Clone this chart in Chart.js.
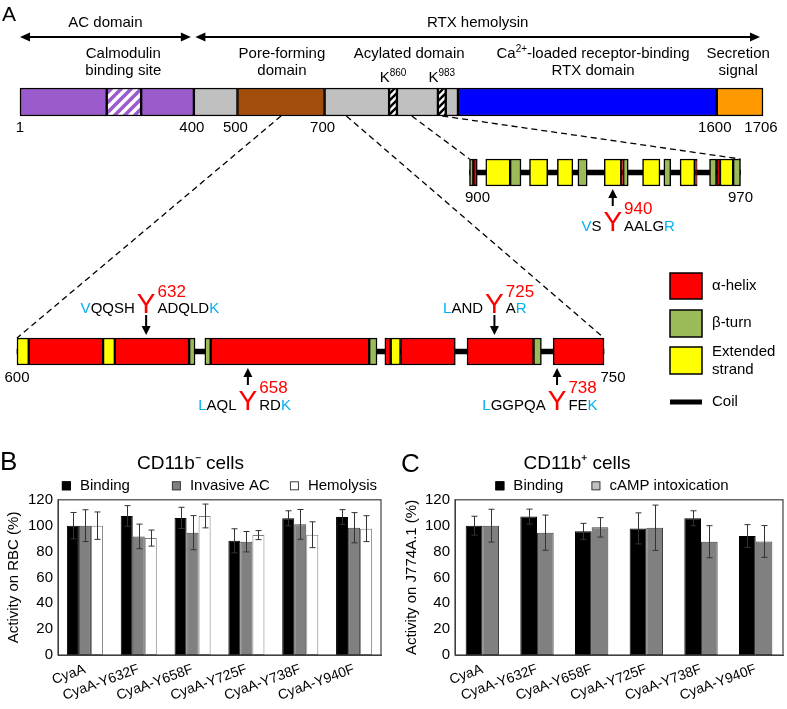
<!DOCTYPE html>
<html>
<head>
<meta charset="utf-8">
<script src="https://cdn.jsdelivr.net/npm/chart.js@4/dist/chart.umd.min.js"></script>
<style>
  html,body{margin:0;padding:0;background:#fff;}
  #page{position:relative;width:787px;height:709px;overflow:hidden;background:#fff;}
  canvas{position:absolute;}
</style>
</head>
<body>
<div id="page">
  <canvas id="cA" width="787" height="709" style="left:0;top:0"></canvas>
  <canvas id="cB" width="383" height="269" style="left:0;top:440px"></canvas>
  <canvas id="cC" width="416" height="269" style="left:371px;top:440px"></canvas>
</div>
<script>
// ---------------- DATA ----------------
// Panel A: full-length CyaA domain map (residue ranges)
const topSegments = [[1,200],[200,279],[279,400],[400,500],[500,700],[700,848],[848,866],[866,960],[960,978],[978,1006],[1006,1600],[1600,1706]];
const topKinds    = ['ac','cam','ac','link','pore','acyl','lys','acyl','lys','acyl','rtx','sec'];
const topTicks    = [1,400,500,700,1600,1706];
const domainArrows = [[1,400],[400,1706]];
const domainArrowText = ['AC domain','RTX hemolysin'];
const domainLabelText = [['Calmodulin','binding site'],['Pore-forming','domain'],['Acylated domain'],['Ca²⁺-loaded receptor-binding','RTX domain'],['Secretion','signal']];
const domainLabelAt   = [238,602,894,1316,1649];
const lysineText = ['K⁸⁶⁰','K⁹⁸³'];
const lysineAt   = [857,969];

// Panel A: secondary structure of residues 600-750
const midRange    = [600,750];
const midSegments = [[600,603],[603,622],[622,625],[625,644],[644,645.5],[648,649.5],[649.5,690],[690,692],[694,695.5],[695.5,698],[698,712],[715,732],[732,734],[737,750]];
const midKinds    = ['E','H','E','H','T','T','H','T','H','E','H','H','T','H'];
// Panel A: secondary structure of residues 900-970
const rtRange    = [900,970];
const rtSegments = [[900,901],[901,902],[904.2,910.5],[910.5,913.3],[915.5,920.2],[922.7,926.7],[928,930.4],[934.8,939.2],[939.2,939.7],[939.7,941],[944.7,949.2],[950.2,952],[954.4,958.2],[958.2,958.8],[962,963.8],[963.8,964.7],[964.7,968.1],[968.1,970]];
const rtKinds    = ['T','H','E','T','E','E','T','E','H','T','E','T','E','H','T','H','E','T'];

// Tyrosine sites
const siteNumber = [632,658,725,738,940];
const siteMark   = [633,659,722,738,937];
const siteRow    = ['mid','mid','mid','mid','rt'];
const siteSide   = ['above','below','above','below','below'];
const siteBefore = ['VQQSH','LAQL','LAND','LGGPQA','VS'];
const siteAfter  = ['ADQLDK','RDK','AR','FEK','AALGR'];

const structLegend = ['α-helix','β-turn','Extended strand','Coil'];

// Panels B and C
const mutants = ['CyaA','CyaA-Y632F','CyaA-Y658F','CyaA-Y725F','CyaA-Y738F','CyaA-Y940F'];
const rbcBinding      = [100,107.5,106,88.3,105.7,106.7];
const rbcBindingErr   = [10.2,8,8.2,9.3,5.8,5.7];
const rbcInvasive     = [100,91.7,94.6,87.6,101,98.4];
const rbcInvasiveErr  = [12.3,9.5,13.2,7.9,11.5,11.7];
const rbcHemolysis    = [100,90.4,107.5,92.7,93,97.7];
const rbcHemolysisErr = [10.6,6.2,9.2,3.5,10,10];
const j774Binding     = [100,107,95.6,97.9,105.7,92];
const j774BindingErr  = [7.3,5.8,6.2,12,5.8,8.8];
const j774Camp        = [100,94.6,98.7,98.4,87.6,87.8];
const j774CampErr     = [12.7,13.6,7.5,17.5,12.4,12.3];
const yTicksMax = 120, yTickStep = 20;

// ---------------- STYLE / LAYOUT ----------------
const FONT = "'Liberation Sans', Arial, Helvetica, sans-serif";
Chart.defaults.font.family = FONT;
Chart.defaults.color = '#000';
const RED = '#ff0000', BLUE = '#00b0f0';
const FILL = {ac:'#9b5bcc', link:'#c0c0c0', acyl:'#c0c0c0', pore:'#a34d0c', rtx:'#0000ff', sec:'#ff9900', H:'#ff0000', T:'#9bbb59', E:'#ffff00'};
const ROW = {top:{c:102,h:28}, rt:{c:172.5,h:27}, mid:{c:351.5,h:27}};
const SPAN = {xTop:{r:[1,1706],p:[20,763]}, xRt:{r:[900,970],p:[469.5,740.5]}, xMid:{r:[600,750],p:[17,604]}};
const W = 787, H = 709;

function hatch(fg, bg, size, lw){
  const c = document.createElement('canvas'); c.width = c.height = size;
  const g = c.getContext('2d');
  g.fillStyle = bg; g.fillRect(0,0,size,size);
  g.strokeStyle = fg; g.lineWidth = lw; g.beginPath();
  g.moveTo(-size/2, size/2); g.lineTo(size/2, -size/2);
  g.moveTo(0, size); g.lineTo(size, 0);
  g.moveTo(size/2, size*1.5); g.lineTo(size*1.5, size/2);
  g.stroke();
  return g.createPattern(c,'repeat');
}
FILL.cam = hatch('#9b5bcc','#ffffff',10,3.6);
FILL.lys = hatch('#000000','#ffffff',7,2.4);

function scaleRange(id){
  const {r,p} = SPAN[id]; const k = (p[1]-p[0])/(r[1]-r[0]);
  return {min: r[0]-p[0]/k, max: r[0]+(W-p[0])/k};
}
function segData(segs, row){ return segs.map(s => ({x:[s[0],s[1]], y:ROW[row].c})); }
function segDataset(segs, kinds, row, axis){
  return {data:segData(segs,row), backgroundColor:kinds.map(k=>FILL[k]), borderColor:'#000', borderWidth:1.5,
    borderSkipped:false, xAxisID:axis, yAxisID:'y', grouped:false, maxBarThickness:ROW[row].h,
    barPercentage:1, categoryPercentage:1, order:1, clip:false};
}
function coilDataset(range,row,axis){
  return {data:segData([range],row), backgroundColor:'#000', borderWidth:0, xAxisID:axis, yAxisID:'y',
    grouped:false, maxBarThickness:5, barPercentage:1, categoryPercentage:1, order:2, clip:false};
}

const SUPMAP = {'⁰':'0','¹':'1','²':'2','³':'3','⁴':'4','⁵':'5','⁶':'6','⁷':'7','⁸':'8','⁹':'9','⁺':'+','⁻':'-'};
function rich(ctx, str, x, y, size, color, align){
  const runs = [];
  for (const ch of str){
    const sup = SUPMAP[ch] !== undefined;
    const t = sup ? SUPMAP[ch] : ch;
    const last = runs[runs.length-1];
    if (last && last.sup === sup) last.t += t; else runs.push({t, sup});
  }
  const ss = Math.round(size*0.68);
  let total = 0;
  runs.forEach(r => { ctx.font = `${r.sup?ss:size}px ${FONT}`; r.w = ctx.measureText(r.t).width; total += r.w; });
  let cx = align === 'center' ? x - total/2 : align === 'right' ? x - total : x;
  ctx.fillStyle = color; ctx.textAlign = 'left'; ctx.textBaseline = 'middle';
  runs.forEach(r => {
    ctx.font = `${r.sup?ss:size}px ${FONT}`;
    ctx.fillText(r.t, cx, r.sup ? y - size*0.3 : y);
    cx += r.w;
  });
}
function arrowV(ctx, x, y1, y2){
  const dir = Math.sign(y2-y1), hl = 9, hw = 4.5;
  ctx.strokeStyle = '#000'; ctx.fillStyle = '#000'; ctx.lineWidth = 2;
  ctx.beginPath(); ctx.moveTo(x,y1); ctx.lineTo(x,y2-dir*hl); ctx.stroke();
  ctx.beginPath(); ctx.moveTo(x,y2); ctx.lineTo(x-hw,y2-dir*hl); ctx.lineTo(x+hw,y2-dir*hl); ctx.closePath(); ctx.fill();
}
function arrowH2(ctx, x1, x2, y){
  const hl = 10, hw = 4.5;
  ctx.strokeStyle = '#000'; ctx.fillStyle = '#000'; ctx.lineWidth = 2;
  ctx.beginPath(); ctx.moveTo(x1+hl-1,y); ctx.lineTo(x2-hl+1,y); ctx.stroke();
  ctx.beginPath(); ctx.moveTo(x1,y); ctx.lineTo(x1+hl,y-hw); ctx.lineTo(x1+hl,y+hw); ctx.closePath(); ctx.fill();
  ctx.beginPath(); ctx.moveTo(x2,y); ctx.lineTo(x2-hl,y-hw); ctx.lineTo(x2-hl,y+hw); ctx.closePath(); ctx.fill();
}
function text(ctx, s, x, y, size, color='#000', align='center'){
  ctx.font = `${size}px ${FONT}`; ctx.fillStyle = color; ctx.textAlign = align; ctx.textBaseline = 'middle';
  ctx.fillText(s, x, y);
}

const panelAPlugin = {
  id:'panelA',
  beforeDatasetsDraw(chart){
    const ctx = chart.ctx, s = chart.scales;
    const topBot = ROW.top.c + ROW.top.h/2;
    ctx.save();
    ctx.setLineDash([6,4]); ctx.lineWidth = 1.3; ctx.strokeStyle = '#000';
    [[midRange,'xMid','mid'],[rtRange,'xRt','rt']].forEach(([rng,id,row]) => {
      const yT = ROW[row].c - ROW[row].h/2;
      rng.forEach(r => {
        ctx.beginPath(); ctx.moveTo(s.xTop.getPixelForValue(r), topBot);
        ctx.lineTo(s[id].getPixelForValue(r), yT); ctx.stroke();
      });
    });
    ctx.restore();
  },
  afterDatasetsDraw(chart){
    const ctx = chart.ctx, s = chart.scales, xt = s.xTop;
    ctx.save();
    // panel letters
    text(ctx,'A',2,15,21,'#000','left');
    text(ctx,'B',0,463,26,'#000','left');
    text(ctx,'C',401,465,26,'#000','left');
    // domain arrows + labels
    domainArrows.forEach((r,i) => {
      const x1 = xt.getPixelForValue(r[0]) + (i ? 1.5 : 0);
      const x2 = xt.getPixelForValue(r[1]) - 3;
      arrowH2(ctx, x1, x2, 37);
      text(ctx, domainArrowText[i], (x1+x2)/2, 23, 15);
    });
    domainLabelText.forEach((lines,i) => {
      const x = xt.getPixelForValue(domainLabelAt[i]);
      lines.forEach((l,j) => rich(ctx, l, x, 54 + j*17, 15, '#000', 'center'));
    });
    lysineText.forEach((t,i) => rich(ctx, t, xt.getPixelForValue(lysineAt[i]), 78, 15, '#000', 'center'));
    topTicks.forEach(v => text(ctx, String(v), xt.getPixelForValue(v) - (v===1?0:2), 128, 15));
    // row end labels
    text(ctx, String(midRange[0]), s.xMid.getPixelForValue(midRange[0]), 378, 15);
    text(ctx, String(midRange[1]), s.xMid.getPixelForValue(midRange[1]) + 9, 378, 15);
    text(ctx, String(rtRange[0]), s.xRt.getPixelForValue(rtRange[0]) + 8, 198, 15);
    text(ctx, String(rtRange[1]), s.xRt.getPixelForValue(rtRange[1]), 198, 15);
    // tyrosine sites
    siteNumber.forEach((num,i) => {
      const row = ROW[siteRow[i]], sc = siteRow[i]==='mid' ? s.xMid : s.xRt;
      const x = sc.getPixelForValue(siteMark[i]);
      const rTop = row.c - row.h/2, rBot = row.c + row.h/2;
      const above = siteSide[i] === 'above';
      if (above) arrowV(ctx, x, rTop-23, rTop-3); else arrowV(ctx, x, rBot+20, rBot+3);
      const baseY = above ? rTop-25 : rBot+45;
      const numY = above ? rTop-41 : rBot+28;
      ctx.textBaseline = 'alphabetic';
      ctx.font = `28px ${FONT}`; const wy = ctx.measureText('Y').width;
      ctx.fillStyle = RED; ctx.textAlign = 'center'; ctx.fillText('Y', x, baseY);
      ctx.font = `17px ${FONT}`; ctx.textAlign = 'left'; ctx.fillText(String(num), x + wy/2 + 2, numY);
      ctx.font = `15px ${FONT}`;
      const b = siteBefore[i], a = siteAfter[i];
      let bx = x - wy/2 - 2 - ctx.measureText(b).width;
      [...b].forEach((ch,k) => { ctx.fillStyle = k===0 ? BLUE : '#000'; ctx.fillText(ch, bx, baseY); bx += ctx.measureText(ch).width; });
      let ax = x + wy/2 + 2;
      [...a].forEach((ch,k) => { ctx.fillStyle = k===a.length-1 ? BLUE : '#000'; ctx.fillText(ch, ax, baseY); ax += ctx.measureText(ch).width; });
    });
    // secondary-structure legend
    const lx = 670, lw = 32;
    [['H',273,299],['T',310,337],['E',347,374]].forEach(([k,y1,y2]) => {
      ctx.fillStyle = FILL[k]; ctx.fillRect(lx,y1,lw,y2-y1);
      ctx.strokeStyle = '#000'; ctx.lineWidth = 1.5; ctx.strokeRect(lx,y1,lw,y2-y1);
    });
    ctx.fillStyle = '#000'; ctx.fillRect(lx, 399.5, lw, 5);
    text(ctx, structLegend[0], 712, 286, 15, '#000', 'left');
    text(ctx, structLegend[1], 712, 323, 15, '#000', 'left');
    const ext = structLegend[2].split(' ');
    text(ctx, ext[0], 712, 352, 15, '#000', 'left');
    text(ctx, ext[1], 712, 370, 15, '#000', 'left');
    text(ctx, structLegend[3], 712, 402, 15, '#000', 'left');
    ctx.restore();
  }
};

new Chart(document.getElementById('cA'), {
  type:'bar',
  data:{datasets:[
    segDataset(topSegments, topKinds, 'top', 'xTop'),
    coilDataset(rtRange, 'rt', 'xRt'),
    segDataset(rtSegments, rtKinds, 'rt', 'xRt'),
    coilDataset(midRange, 'mid', 'xMid'),
    segDataset(midSegments, midKinds, 'mid', 'xMid')
  ]},
  options:{
    indexAxis:'y', responsive:false, animation:false, events:[],
    layout:{padding:0},
    plugins:{legend:{display:false}, tooltip:{enabled:false}, title:{display:false}},
    scales:{
      y:{type:'linear', display:false, min:0, max:H, reverse:true, offset:false, bounds:'data', ticks:{stepSize:100}},
      xTop:Object.assign({type:'linear', axis:'x', display:false, bounds:'data'}, scaleRange('xTop')),
      xRt:Object.assign({type:'linear', axis:'x', display:false, bounds:'data'}, scaleRange('xRt')),
      xMid:Object.assign({type:'linear', axis:'x', display:false, bounds:'data'}, scaleRange('xMid'))
    }
  },
  plugins:[panelAPlugin]
});

// ---------------- Panels B & C ----------------
const errorBarPlugin = {
  id:'errorBars',
  afterDatasetsDraw(chart){
    const ctx = chart.ctx, ys = chart.scales.y;
    ctx.save(); ctx.strokeStyle = '#333'; ctx.lineWidth = 1;
    chart.data.datasets.forEach((ds,di) => {
      const meta = chart.getDatasetMeta(di);
      meta.data.forEach((el,i) => {
        const v = ds.data[i], e = ds.errors[i];
        const x = Math.round(el.x)+0.5, y1 = ys.getPixelForValue(v+e), y2 = ys.getPixelForValue(v-e);
        ctx.beginPath(); ctx.moveTo(x,y1); ctx.lineTo(x,y2);
        ctx.moveTo(x-3,y1); ctx.lineTo(x+3,y1); ctx.moveTo(x-3,y2); ctx.lineTo(x+3,y2); ctx.stroke();
      });
    });
    ctx.restore();
  }
};
const framePlugin = {
  id:'frame',
  afterDraw(chart){
    const {ctx, chartArea:a} = chart;
    ctx.save(); ctx.strokeStyle = '#404040'; ctx.lineWidth = 1.2;
    ctx.strokeRect(a.left, a.top, a.right-a.left, a.bottom-a.top); ctx.restore();
  }
};
const legendPlugin = {
  id:'boxLegend',
  afterDraw(chart, args, opts){
    const {ctx, chartArea:a} = chart;
    ctx.save(); ctx.font = `15px ${FONT}`;
    const items = chart.data.datasets.map(d => ({t:d.label, f:d.legendFill, s:d.legendStroke}));
    const widths = items.map(it => opts.textOffset + ctx.measureText(it.t).width);
    const gaps = opts.gaps;
    const total = widths.reduce((p,c)=>p+c,0) + gaps.reduce((p,c)=>p+c,0);
    let x = (a.left+a.right)/2 - total/2 + (opts.shift || 0);
    const y = a.top - opts.dy;
    items.forEach((it,i) => {
      ctx.fillStyle = it.f; ctx.fillRect(x, y-4.5, 9, 9);
      ctx.strokeStyle = it.s; ctx.lineWidth = 1; ctx.strokeRect(x+0.5, y-4, 8, 8);
      ctx.fillStyle = '#000'; ctx.textAlign = 'left'; ctx.textBaseline = 'middle';
      ctx.fillText(it.t, x + opts.textOffset, y);
      x += widths[i] + (gaps[i] || 0);
    });
    ctx.restore();
  }
};

function bars(id, cfg){
  return new Chart(document.getElementById(id), {
    type:'bar',
    data:{labels:mutants, datasets:cfg.datasets.map(d => Object.assign({borderWidth:1, borderSkipped:false,
      categoryPercentage:cfg.catPct, barPercentage:1}, d))},
    options:{
      responsive:false, animation:false, events:[],
      layout:{padding:{left:0, right:cfg.padRight, top:0, bottom:0}},
      plugins:{
        legend:{display:false}, tooltip:{enabled:false},
        title:{display:true, text:cfg.title, color:'#000', font:{size:19, weight:'normal'}, padding:{top:12, bottom:25}},
        boxLegend:{gaps:cfg.gaps, textOffset:18, dy:14, shift:cfg.legendShift}
      },
      scales:{
        x:{grid:{display:false, drawTicks:false}, border:{display:true, color:'#404040'},
          ticks:{color:'#000', font:{size:14}, minRotation:20, maxRotation:20, autoSkip:false, padding:6},
          afterFit:sc => { sc.height = 54; }},
        y:{min:0, max:yTicksMax, grid:{display:false, drawTicks:false}, border:{display:true, color:'#404040'},
          ticks:{stepSize:yTickStep, color:'#000', font:{size:15}, padding:5},
          title:{display:true, text:cfg.yTitle, color:'#000', font:{size:15}, padding:{top:cfg.yTitlePad, bottom:4}},
          afterFit:sc => { sc.width = cfg.yWidth; }}
      }
    },
    plugins:[errorBarPlugin, framePlugin, legendPlugin]
  });
}

bars('cB', {
  title:'CD11b⁻ cells', yTitle:'Activity on RBC (%)', padRight:2, yWidth:58, yTitlePad:5, catPct:0.67, gaps:[42,20], legendShift:0,
  datasets:[
    {label:'Binding', data:rbcBinding, errors:rbcBindingErr, backgroundColor:'#000000', borderColor:'#000000', legendFill:'#000000', legendStroke:'#000000'},
    {label:'Invasive AC', data:rbcInvasive, errors:rbcInvasiveErr, backgroundColor:'#808080', borderColor:'#404040', legendFill:'#808080', legendStroke:'#404040'},
    {label:'Hemolysis', data:rbcHemolysis, errors:rbcHemolysisErr, backgroundColor:'#ffffff', borderColor:'#7f7f7f', legendFill:'#ffffff', legendStroke:'#404040'}
  ]
});
bars('cC', {
  title:'CD11b⁺ cells', yTitle:'Activity on J774A.1 (%)', padRight:4, yWidth:84, yTitlePad:32, catPct:0.61, gaps:[28], legendShift:-7,
  datasets:[
    {label:'Binding', data:j774Binding, errors:j774BindingErr, backgroundColor:'#000000', borderColor:'#000000', legendFill:'#000000', legendStroke:'#000000'},
    {label:'cAMP intoxication', data:j774Camp, errors:j774CampErr, backgroundColor:'#808080', borderColor:'#404040', legendFill:'#c0c0c0', legendStroke:'#404040'}
  ]
});
</script>
</body>
</html>
